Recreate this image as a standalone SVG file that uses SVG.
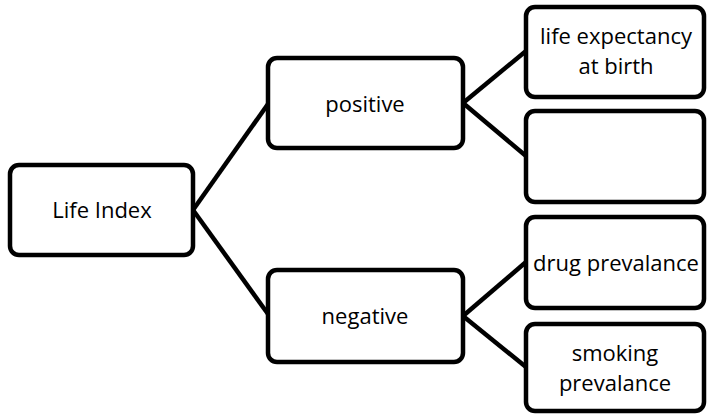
<svg xmlns="http://www.w3.org/2000/svg" width="707" height="414" viewBox="0 0 707 414">
<style>
.box{fill:#fff;stroke:#000;stroke-width:4.5}
.ln{stroke:#000;stroke-width:4.5;fill:none}
text{font-family:"Open Sans","Noto Sans",sans-serif;font-size:22px;fill:#000;text-anchor:middle}
</style>
<rect width="707" height="414" fill="#fff"/>
<g id="connectors">
<line class="ln" x1="193" y1="210" x2="268" y2="104"/>
<line class="ln" x1="193" y1="210" x2="268" y2="314"/>
<line class="ln" x1="463" y1="103" x2="526" y2="51"/>
<line class="ln" x1="463" y1="103" x2="526" y2="156"/>
<line class="ln" x1="463" y1="316" x2="526" y2="262"/>
<line class="ln" x1="463" y1="316" x2="526" y2="367"/>
</g>
<g id="life-index"><rect class="box" x="10" y="165" width="183" height="90" rx="9"/><text x="102" y="218">Life Index</text></g>
<g id="positive"><rect class="box" x="268" y="58" width="195" height="90" rx="9"/><text x="365" y="112">positive</text></g>
<g id="negative"><rect class="box" x="268" y="270" width="195" height="92" rx="9"/><text x="365" y="324">negative</text></g>
<g id="life-expectancy"><rect class="box" x="526" y="7" width="178" height="90" rx="9"/><text x="616" y="44">life expectancy</text><text x="616" y="74">at birth</text></g>
<g id="empty"><rect class="box" x="526" y="111" width="178" height="91" rx="9"/></g>
<g id="drug"><rect class="box" x="526" y="217" width="178" height="91" rx="9"/><text x="616" y="271">drug prevalance</text></g>
<g id="smoking"><rect class="box" x="526" y="324" width="178" height="87" rx="9"/><text x="615" y="361">smoking</text><text x="615" y="391">prevalance</text></g>
</svg>
